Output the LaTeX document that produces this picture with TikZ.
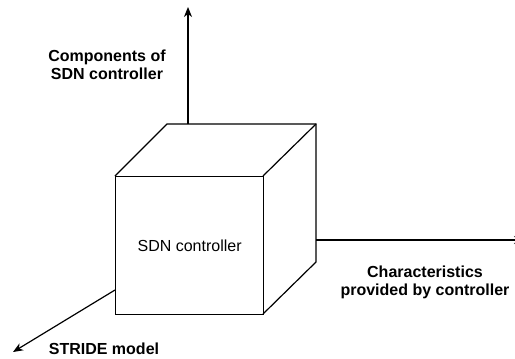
\documentclass[tikz,border=0pt]{standalone}
\usepackage{fontspec}
\setmainfont{Liberation Sans}
\usetikzlibrary{arrows.meta}
\begin{document}
\begin{tikzpicture}[x=1pt,y=-1pt,
  edge/.style={line width=1.2pt,black},
  axis/.style={line width=1.2pt,black,-{Stealth[length=10pt,width=8pt,inset=3pt]}},
  lbl/.style={font=\fontsize{16}{18}\selectfont\bfseries,align=center,inner sep=0pt}]
\useasboundingbox (0,0) rectangle (515,359);
% cube corners
\coordinate (ftl) at (115,176);
\coordinate (ftr) at (263,176);
\coordinate (fbl) at (115,314);
\coordinate (fbr) at (263,314);
\coordinate (btl) at (167,124);
\coordinate (btr) at (316,124);
\coordinate (bbr) at (316,262);
% axes
\coordinate (topstart) at (188,124);
\coordinate (toptip) at (188,7);
\coordinate (rightstart) at (316,240);
\coordinate (righttip) at (524,240);
\coordinate (leftstart) at (115,290);
\coordinate (lefttip) at (13,352);
\draw[axis] (topstart) -- (toptip);
\draw[axis] (rightstart) -- (righttip);
\draw[axis] (leftstart) -- (lefttip);
% cube
\draw[edge,line join=miter] (ftl) -- (btl) -- (btr) -- (bbr) -- (fbr);
\draw[edge] (ftr) -- (btr);
\node[draw,line width=1.2pt,minimum width=148pt,minimum height=138pt,inner sep=0pt,anchor=north west,
  font=\fontsize{16}{18}\selectfont] (front) at (ftl) {SDN controller};
% labels
\node[lbl] (comp) at (107,65) {Components of\\SDN controller};
\node[lbl] (char) at (425,282) {Characteristics\\provided by controller};
\node[lbl] (stride) at (104,349) {STRIDE model};
\end{tikzpicture}
\end{document}
